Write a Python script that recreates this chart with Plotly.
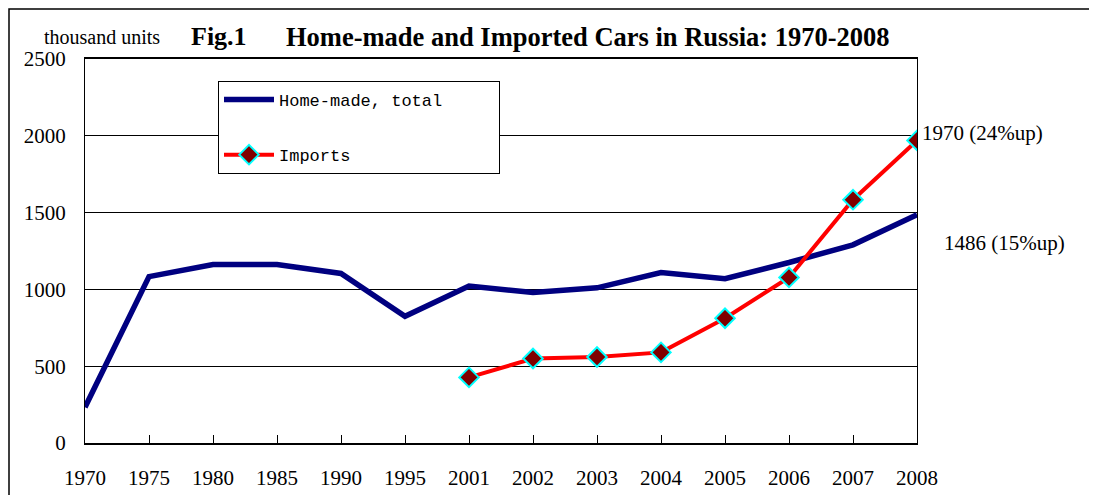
import plotly.graph_objects as go

years = ["1970", "1975", "1980", "1985", "1990", "1995", "2001", "2002", "2003",
         "2004", "2005", "2006", "2007", "2008"]
home_made = [232, 1083, 1162, 1162, 1104, 825, 1022, 980, 1010, 1110, 1070, 1175, 1290, 1486]
import_years = ["2001", "2002", "2003", "2004", "2005", "2006", "2007", "2008"]
imports = [427, 550, 560, 590, 812, 1078, 1584, 1970]

serif = "Liberation Serif"
mono = "Liberation Mono"
NB = "&nbsp;"

fig = go.Figure()
fig.add_trace(go.Scatter(
    x=years, y=home_made, mode="lines", name="Home-made, total" + NB * 5,
    line=dict(color="#000080", width=5.5), legendgroup="a",
))
fig.add_trace(go.Scatter(
    x=import_years, y=imports, mode="lines+markers", name="Imports",
    line=dict(color="#FF0000", width=4), legendgroup="b",
    marker=dict(symbol="diamond", size=15, color="#800000",
                line=dict(color="#00FFFF", width=2)),
))

# plot area in screen pixels: x 85..917, y 59..443 (page has 8px body margin)
def px(x):
    return (x - 85) / 832

def py(y):
    return (443 - y) / 384

fig.update_layout(
    width=1089, height=487,
    margin=dict(l=77, r=180, t=51, b=52, autoexpand=False),
    paper_bgcolor="white", plot_bgcolor="white",
    font=dict(family=serif, size=21, color="black"),
    showlegend=True,
    legend=dict(
        x=px(218), y=py(81), xanchor="left", yanchor="top",
        bordercolor="black", borderwidth=1, bgcolor="white",
        font=dict(family=mono, size=17, color="black"),
        itemwidth=50, tracegroupgap=30,
    ),
    xaxis=dict(
        type="category", categoryorder="array", categoryarray=years,
        range=[0, 13], showgrid=False, automargin=False,
        showline=True, linecolor="black", linewidth=2, mirror=True,
        ticks="inside", ticklen=8, tickcolor="black", tickwidth=1,
        ticklabelstandoff=15,
        tickfont=dict(family=serif, size=21),
    ),
    yaxis=dict(
        range=[0, 2500], tickvals=[0, 500, 1000, 1500, 2000, 2500],
        showgrid=True, gridcolor="black", gridwidth=1, automargin=False,
        showline=True, linecolor="black", linewidth=1, mirror=True,
        zeroline=False, ticks="", ticklabelstandoff=14,
        tickfont=dict(family=serif, size=21),
    ),
    shapes=[dict(type="rect", xref="paper", yref="paper",
                 x0=px(9), x1=px(1093),
                 y0=py(520), y1=py(9),
                 line=dict(color="black", width=1.5))],
    annotations=[
        dict(text="thousand units", xref="paper", yref="paper",
             x=px(42), y=py(37), xanchor="left", yanchor="middle",
             showarrow=False, font=dict(family=serif, size=20)),
        dict(text="<b>Fig.1</b>", xref="paper", yref="paper",
             x=px(189), y=py(37), xanchor="left", yanchor="middle",
             showarrow=False, font=dict(family=serif, size=26)),
        dict(text="<b>Home-made and Imported Cars in Russia: 1970-2008</b>",
             xref="paper", yref="paper",
             x=px(284), y=py(37), xanchor="left", yanchor="middle",
             showarrow=False, font=dict(family=serif, size=26.5)),
        dict(text="1970 (24%up)", xref="paper", yref="paper",
             x=px(920), y=py(133), xanchor="left", yanchor="middle",
             showarrow=False, font=dict(family=serif, size=21)),
        dict(text="1486 (15%up)", xref="paper", yref="paper",
             x=px(942), y=py(243), xanchor="left", yanchor="middle",
             showarrow=False, font=dict(family=serif, size=21)),
    ],
)

fig.write_html("out.html")
